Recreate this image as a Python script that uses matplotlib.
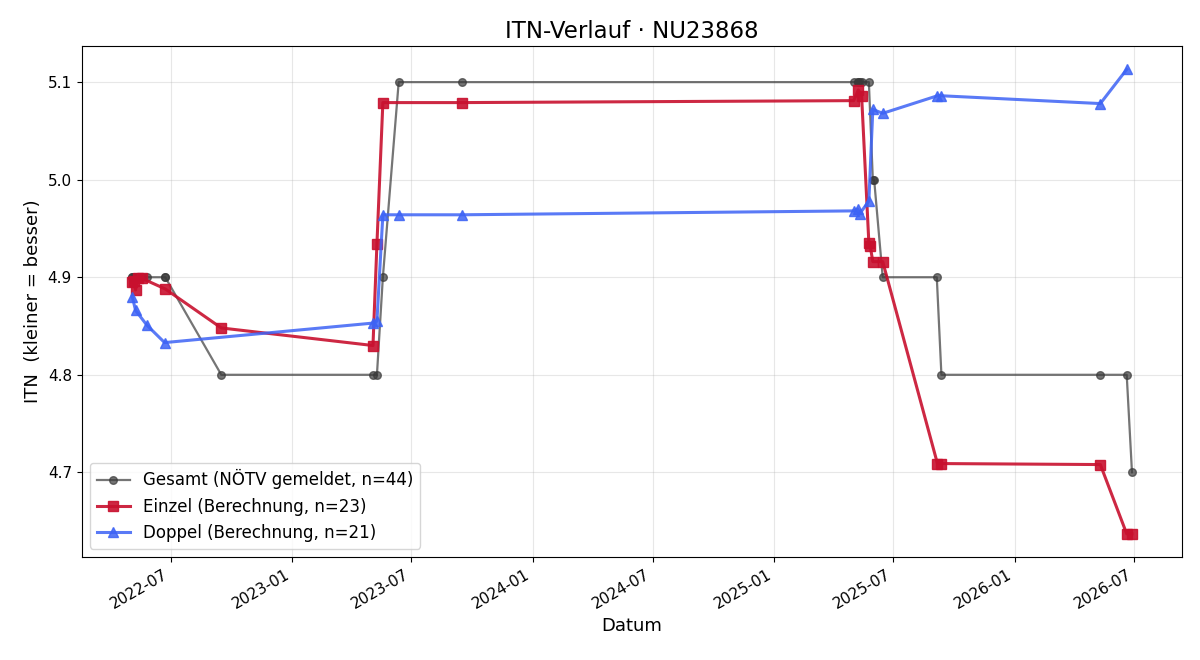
import matplotlib
matplotlib.use("Agg")
import matplotlib.pyplot as plt
import matplotlib.dates as mdates
import pandas as pd

gesamt_dates = ["2022-05-03", "2022-05-04", "2022-05-06", "2022-05-09", "2022-05-12",
                "2022-05-18", "2022-05-26", "2022-06-22", "2022-06-23", "2022-09-16",
                "2023-05-04", "2023-05-10", "2023-05-19", "2023-06-12", "2023-09-16",
                "2025-05-02", "2025-05-08", "2025-05-09", "2025-05-11", "2025-05-14",
                "2025-05-25", "2025-05-31", "2025-06-02", "2025-06-15",
                "2025-09-05", "2025-09-12", "2026-05-11", "2026-06-20", "2026-06-28"]
gesamt_vals = [4.9, 4.9, 4.9, 4.9, 4.9,
               4.9, 4.9, 4.9, 4.9, 4.8,
               4.8, 4.8, 4.9, 5.1, 5.1,
               5.1, 5.1, 5.1, 5.1, 5.1,
               5.1, 5.0, 5.0, 4.9,
               4.9, 4.8, 4.8, 4.8, 4.7]

einzel_dates = ["2022-05-03", "2022-05-06", "2022-05-09", "2022-05-12", "2022-05-18",
                "2022-06-23", "2022-09-16", "2023-05-04", "2023-05-10", "2023-05-19",
                "2023-09-16", "2025-05-02", "2025-05-09", "2025-05-14", "2025-05-25",
                "2025-05-27", "2025-05-31", "2025-06-15", "2025-09-06", "2025-09-12",
                "2026-05-11", "2026-06-20", "2026-06-28"]
einzel_vals = [4.895, 4.896, 4.887, 4.899, 4.899,
               4.888, 4.848, 4.830, 4.934, 5.079,
               5.079, 5.081, 5.092, 5.086, 4.935,
               4.932, 4.916, 4.916, 4.709, 4.709,
               4.708, 4.637, 4.637]

doppel_dates = ["2022-05-04", "2022-05-09", "2022-05-26", "2022-06-22",
                "2023-05-04", "2023-05-10", "2023-05-19", "2023-06-12", "2023-09-16",
                "2025-05-02", "2025-05-08", "2025-05-11", "2025-05-25", "2025-05-31",
                "2025-06-15", "2025-09-06", "2025-09-12", "2026-05-11", "2026-06-20"]
doppel_vals = [4.880, 4.866, 4.851, 4.833,
               4.853, 4.855, 4.964, 4.964, 4.964,
               4.968, 4.970, 4.965, 4.978, 5.072,
               5.068, 5.086, 5.086, 5.078, 5.113]

fig, ax = plt.subplots(figsize=(12, 6.6), dpi=100)
fig.subplots_adjust(left=0.068, right=0.985, top=0.930, bottom=0.156)

ax.plot(pd.to_datetime(gesamt_dates), gesamt_vals, marker="o", color="#3a3a3a",
        alpha=0.7, lw=1.6, ms=5.5, label="Gesamt (NÖTV gemeldet, n=44)")
ax.plot(pd.to_datetime(einzel_dates), einzel_vals, marker="s", color="#c8102e",
        alpha=0.9, lw=2.2, ms=7, label="Einzel (Berechnung, n=23)")
ax.plot(pd.to_datetime(doppel_dates), doppel_vals, marker="^", color="#3d63f5",
        alpha=0.85, lw=2.2, ms=7, label="Doppel (Berechnung, n=21)")

ax.set_title("ITN-Verlauf · NU23868", fontsize=16.5)
ax.set_xlabel("Datum", fontsize=13)
ax.set_ylabel("ITN  (kleiner = besser)", fontsize=13)
ax.set_yticks([4.7, 4.8, 4.9, 5.0, 5.1])
ax.xaxis.set_major_locator(mdates.MonthLocator(bymonth=[1, 7]))
ax.xaxis.set_major_formatter(mdates.DateFormatter("%Y-%m"))
ax.tick_params(labelsize=11)
for lab in ax.get_xticklabels():
    lab.set_rotation(30)
    lab.set_ha("right")
ax.grid(True, alpha=0.3)
ax.legend(loc="lower left", fontsize=12)

fig.savefig("out.png", dpi=100)
